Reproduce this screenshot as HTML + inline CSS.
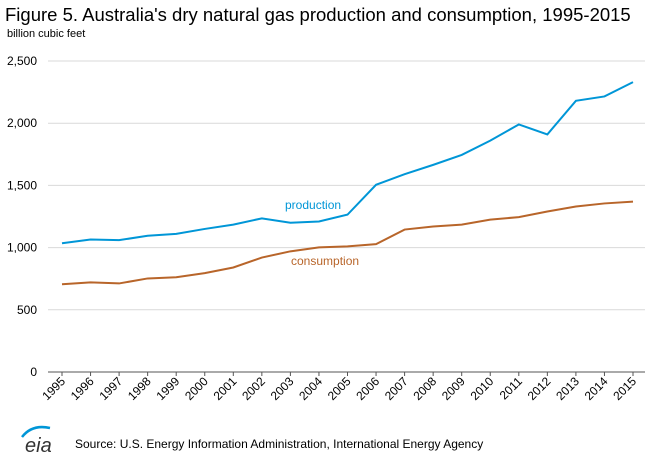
<!DOCTYPE html>
<html><head><meta charset="utf-8"><style>
body{margin:0;background:#fff;font-family:"Liberation Sans",Arial,sans-serif}
svg text{font-family:"Liberation Sans",Arial,sans-serif}
</style></head><body>
<svg id="chart" width="658" height="461" viewBox="0 0 658 461" xmlns="http://www.w3.org/2000/svg">
<text x="5" y="21" font-size="18.5" fill="#000">Figure 5. Australia's dry natural gas production and consumption, 1995-2015</text>
<text x="7" y="37" font-size="11" fill="#000">billion cubic feet</text>
<g id="grid"></g><g id="series"></g><g id="xlabels"></g>
<text x="285" y="209" font-size="12" fill="#0096d7">production</text>
<text x="291" y="265" font-size="12" fill="#b8652a">consumption</text>
<g>
<path d="M22 437 Q32 424 50 428" stroke="#0096d7" stroke-width="2.5" fill="none"/>
<text x="25" y="452" font-size="20" fill="#333" font-style="italic">eia</text>
</g>
<text x="75" y="448" font-size="12" fill="#000">Source: U.S. Energy Information Administration, International Energy Agency</text>
</svg>
<script>
const years=[1995,1996,1997,1998,1999,2000,2001,2002,2003,2004,2005,2006,2007,2008,2009,2010,2011,2012,2013,2014,2015];
const production=[1035,1065,1060,1095,1110,1150,1185,1235,1200,1210,1265,1505,1590,1665,1745,1860,1990,1910,2180,2215,2330];
const consumption=[705,720,712,752,762,795,840,920,970,1002,1010,1028,1145,1170,1185,1225,1245,1290,1330,1355,1370];
const yTicks=[0,500,1000,1500,2000,2500];
const ns="http://www.w3.org/2000/svg";
const x=i=>62+i*(633-62)/(years.length-1);
const y=v=>372-v*(372-61)/2500;
function mk(t,a,p){const e=document.createElementNS(ns,t);for(const k in a)e.setAttribute(k,a[k]);p.appendChild(e);return e;}
const grid=document.getElementById('grid');
yTicks.forEach(v=>{
  const l=mk('line',{x1:48,x2:645,y1:y(v),y2:y(v),stroke:v===0?'#555':'#d9d9d9','stroke-width':1},grid);
  
  
  const t=mk('text',{x:37,y:y(v)+4,'font-size':12,'text-anchor':'end',fill:'#000'},grid);
  t.textContent=v.toLocaleString('en-US');
  
  
});
const xl=document.getElementById('xlabels');
years.forEach((yr,i)=>{
  const tk=mk('line',{x1:x(i),x2:x(i),y1:372,y2:376,stroke:'#555'},xl);
  
  
  const t=mk('text',{x:x(i)+4,y:382,'font-size':12,'text-anchor':'end',transform:`rotate(-45 ${x(i)+4} 382)`,fill:'#000'},xl);
  t.textContent=yr;
  
  
});
const s=document.getElementById('series');
[[production,'#0096d7','production-line'],[consumption,'#b8652a','consumption-line']].forEach(([d,c,n])=>{
  const p=mk('polyline',{points:d.map((v,i)=>x(i)+','+y(v)).join(' '),fill:'none',stroke:c,'stroke-width':2},s);
  
  
});
</script>
</body></html>
